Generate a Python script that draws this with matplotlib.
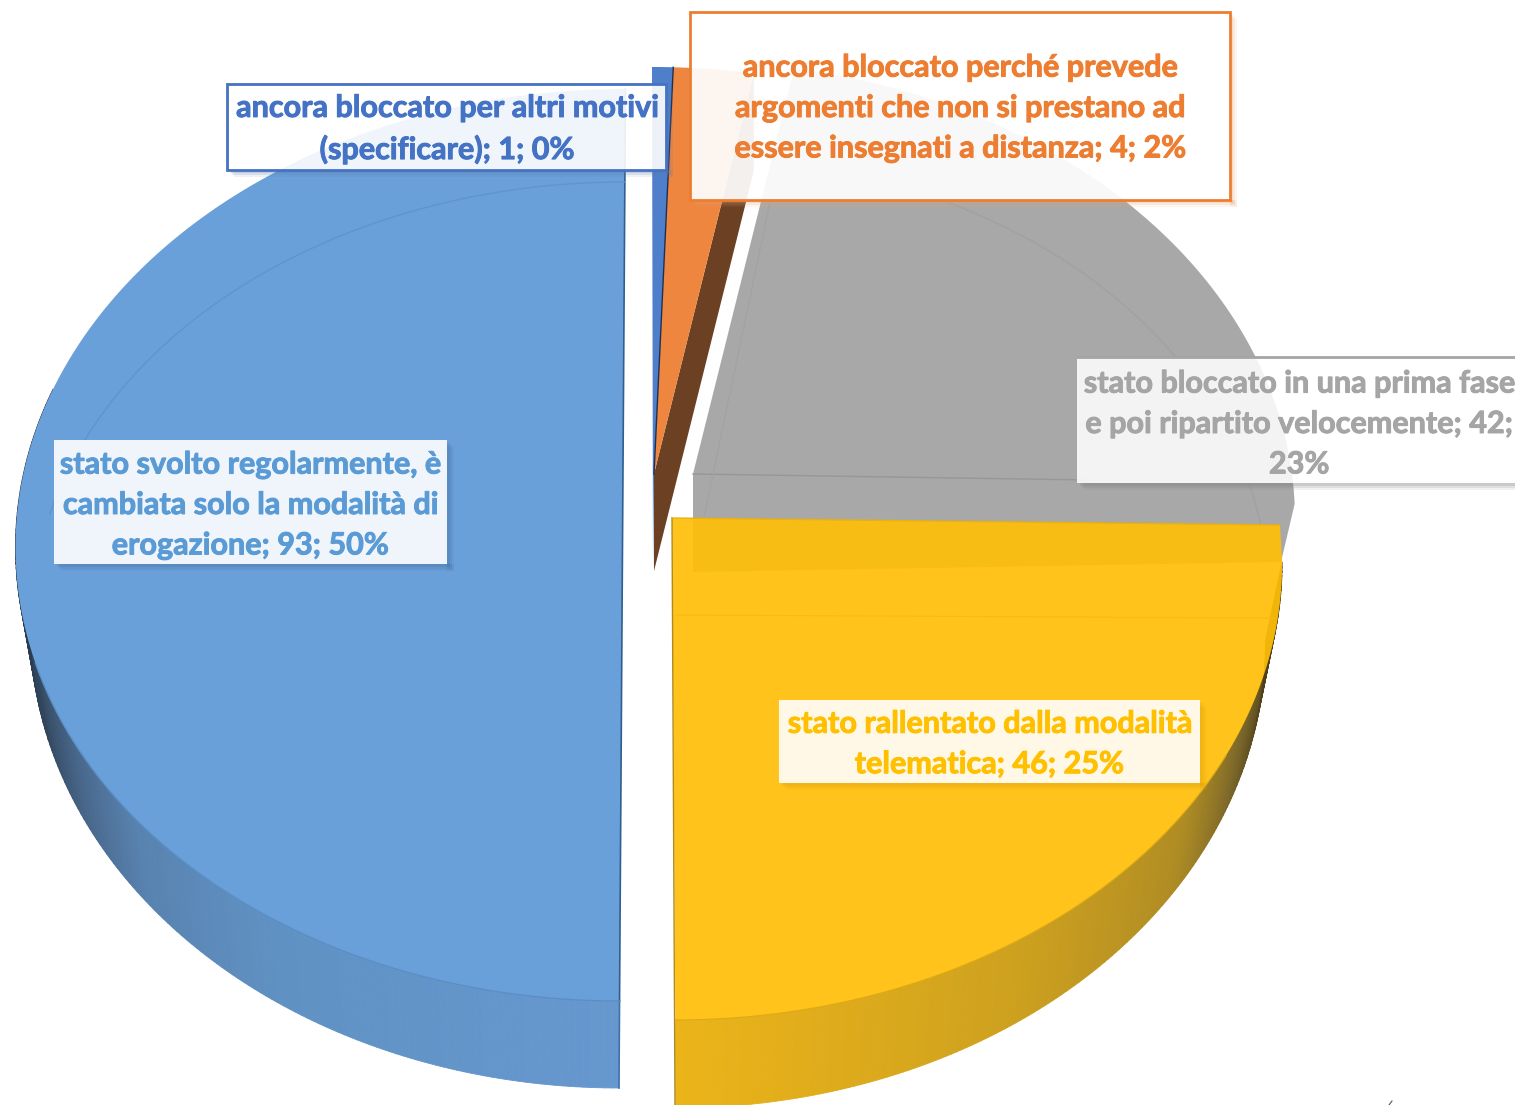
import matplotlib
matplotlib.use("Agg")
import matplotlib.pyplot as plt
import matplotlib.patheffects as pe
import numpy as np
from matplotlib.collections import PolyCollection
from matplotlib.patches import Polygon, Rectangle

# --- data ---
values = [93, 1, 4, 42, 46]
labels = [
    "stato svolto regolarmente, è\ncambiata solo la modalità di\nerogazione; 93; 50%",
    "ancora bloccato per altri motivi\n(specificare); 1; 0%",
    "ancora bloccato perché prevede\nargomenti che non si prestano ad\nessere insegnati a distanza; 4; 2%",
    "stato bloccato in una prima fase\ne poi ripartito velocemente; 42;\n23%",
    "stato rallentato dalla modalità\ntelematica; 46; 25%",
]
face_colors = ["#6AA0D9", "#4F7FCB", "#EE8640", "#A8A8A8", "#FFBF09"]
text_colors = ["#5B9BD5", "#4472C4", "#ED7D31", "#A5A5A5", "#FFC000"]

# angles run clockwise from north, the first slice starts at south
edges = 180 + np.concatenate([[0], np.cumsum(values)]) / sum(values) * 360

BLUE_LEAN = -0.0065
YELLOW_LEAN = 0.005


def arc(cx, cy, rx, ry, a0, a1, n=200, lean=0, y0=545):
    a = np.radians(np.linspace(a0, a1, n))
    y = cy - ry * np.cos(a)
    return np.column_stack([cx + rx * np.sin(a) + lean * (y - y0), y])


def side_wall(ax, top, base, a0, a1, stops_a, stops_c, lean=0):
    ang = np.linspace(a0, a1, 160)
    pt = arc(*top, a0, a1, 160, lean)
    pb = arc(*base, a0, a1, 160, lean)
    polys, cols = [], []
    for i in range(len(ang) - 1):
        polys.append([pt[i], pt[i + 1], pb[i + 1], pb[i]])
        mid = (ang[i] + ang[i + 1]) / 2
        cols.append([np.interp(mid, stops_a, [c[k] for c in stops_c]) / 255 for k in range(3)])
    ax.add_collection(PolyCollection(polys, facecolors=cols, edgecolors=cols, linewidths=0.6, zorder=2))


def box(ax, x0, y0, x1, y1, shadow, edge=None, alpha=0.9, lw=2):
    # shadow only outside the box, so the translucent fill stays clean
    for off, a in [(7, 0.10), (5, 0.14), (3, 0.2)]:
        ax.add_patch(Rectangle((x0 + off, y1), x1 - x0, off, fc=shadow, ec="none", alpha=a, zorder=8))
        ax.add_patch(Rectangle((x1, y0 + off), off, y1 - y0, fc=shadow, ec="none", alpha=a, zorder=8))
    ax.add_patch(Rectangle((x0, y0), x1 - x0, y1 - y0, fc="white", ec="none", alpha=alpha, zorder=9))
    if edge:
        ax.add_patch(Rectangle((x0, y0), x1 - x0, y1 - y0, fc="none", ec=edge, lw=lw, zorder=10))


fig = plt.figure(figsize=(15.15, 11.05), dpi=100)
ax = fig.add_axes([0, 0, 1, 1])
ax.set_xlim(0, 1515)
ax.set_ylim(1105, 0)
ax.axis("off")

# --- gray slice (drawn first, it sits behind the yellow one) ---
gray = (693, 520, 602, 458)
pts = arc(*gray, edges[3], 360 + 88)
pts = np.vstack([pts, [[1281, 562], [693, 572], [693, 474]]])
ax.add_patch(Polygon(pts, fc=face_colors[3], ec="none", zorder=1))
ax.plot([693, 1090], [474, 480], color="#979797", lw=1, zorder=1.5)
inner = arc(693, 595, 575, 438, 10, 85)
ax.plot(inner[:, 0], inner[:, 1], color="#A1A1A1", lw=1, zorder=1.5)
ax.plot([694, 770], [565, 202], color="#A3A3A3", lw=1, zorder=1.5)

# --- small blue and orange slices ---
small = (653, 523, 600, 456)
p_small = arc(*small, edges[1], edges[2], 10)
ax.add_patch(Polygon(np.vstack([[[652, p_small[0, 1]]], p_small, [[654, 474], [653, 569]]]),
                     fc=face_colors[1], ec="none", zorder=3))
p_orange = arc(*small, edges[2], edges[3], 30)
outer = p_orange[-1]
ax.add_patch(Polygon([[654, 474], outer, outer + [0, 97], [654, 571]], fc="#6B4023", ec="none", zorder=3.2))
ax.add_patch(Polygon(np.vstack([[[654, 474]], p_orange]), fc=face_colors[2], ec="none", zorder=3.4))
ax.plot([p_orange[0, 0], 654], [p_orange[0, 1], 474], color="#1F2F4F", lw=1, zorder=3.5)

# --- big blue slice ---
blue_top = (622.5, 545, 607, 456)
blue_base = (622.5, 623, 592, 465)
side_wall(ax, blue_top, blue_base, 180, 290,
          [180, 215, 233, 245, 255, 270],
          [(102, 152, 207), (96, 145, 195), (88, 130, 175), (70, 100, 135), (50, 72, 95), (40, 55, 75)],
          lean=BLUE_LEAN)
p_blue = arc(*blue_top, edges[0], edges[1], lean=BLUE_LEAN)
ax.add_patch(Polygon(p_blue, fc=face_colors[0], ec="none", zorder=3))
ax.plot([p_blue[0, 0], p_blue[-1, 0]], [p_blue[0, 1], p_blue[-1, 1]], color="#2F5F90", lw=1.2, zorder=3)
bottom = arc(*blue_base, 180, 180, 1, BLUE_LEAN)[0]
ax.plot([p_blue[0, 0], bottom[0]], [p_blue[0, 1], bottom[1]], color="#3F73A8", lw=1.2, zorder=3)
p = arc(622, 620, 590, 438, 284, 360, lean=BLUE_LEAN)
ax.plot(p[:, 0], p[:, 1], color="#5F95CC", lw=1, zorder=3.1)
p = arc(*blue_top, 180, 255, lean=BLUE_LEAN)
ax.plot(p[:, 0], p[:, 1], color="#5A8FC6", lw=1, zorder=3.1)

# --- yellow slice ---
yel_top = (673, 562, 609, 458)
yel_base = (673, 640, 592, 468)
side_wall(ax, yel_top, yel_base, 180, 90,
          [90, 100, 110, 123, 145, 180],
          [(70, 58, 28), (85, 70, 30), (120, 100, 40), (175, 140, 35), (205, 160, 30), (235, 180, 25)],
          lean=YELLOW_LEAN)
p_yel = arc(*yel_top, 90, 180, lean=YELLOW_LEAN)
ax.add_patch(Polygon(np.vstack([[[672, 518], [1280, 525]], p_yel]),
                     fc=face_colors[4], ec="none", alpha=0.93, zorder=4))
ax.plot([672, 675], [518, 1105], color="#B08A20", lw=1, zorder=4.1)
ax.plot([672, 1280], [518, 525], color="#E8B010", lw=1, zorder=4.1)
ax.plot([675, 1275], [615, 618], color="#F7BC12", lw=0.8, zorder=4.1)
p = arc(*yel_top, 115, 180, lean=YELLOW_LEAN)
ax.plot(p[:, 0], p[:, 1], color="#DDAA15", lw=0.8, zorder=4.1)

# stray mark at the bottom edge of the source picture
ax.plot([1389, 1392], [1105, 1101], color="#555555", lw=0.8, zorder=1)

# --- labels ---
box(ax, 54, 440, 447, 564, "#3F6E9E")
box(ax, 227, 84, 666, 170, "#5A78A8", edge="#4472C4")
box(ax, 690, 12, 1230, 200, "#E8A070", edge="#ED7D31", alpha=0.93)
box(ax, 1077, 357, 1530, 483, "#777777", alpha=0.87)
ax.plot([1077, 1515], [357, 357], color="#A5A5A5", lw=2, zorder=10)
box(ax, 779, 700, 1200, 783, "#D9A010")

label_pos = [(250, 505), (447, 129), (960, 108), (1299, 424), (989, 744)]
for txt, col, (x, y) in zip(labels, text_colors, label_pos):
    t = ax.text(x, y, txt, color=col, ha="center", va="center", fontsize=22,
                family="Lato", weight="bold", linespacing=1.54, zorder=11, clip_on=True)
    t.set_path_effects([pe.withStroke(linewidth=0.7, foreground=col)])

fig.savefig("out.png", dpi=100)
